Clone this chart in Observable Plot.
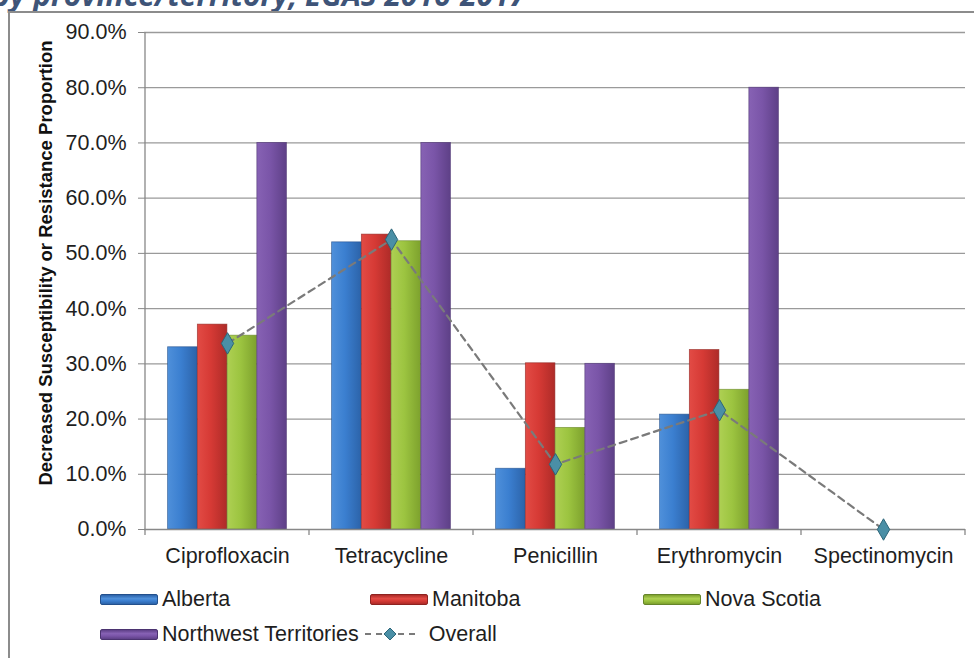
<!DOCTYPE html>
<html>
<head>
<meta charset="utf-8">
<script src="https://cdn.jsdelivr.net/npm/d3@7"></script>
<script src="https://cdn.jsdelivr.net/npm/@observablehq/plot@0.6"></script>
<style>
  html, body { margin: 0; padding: 0; background: #fff; }
  #page { position: relative; width: 974px; height: 658px; overflow: hidden; font-family: "Liberation Sans", Arial, sans-serif; }
  #title { position: absolute; left: -8px; top: -20px; font-family: "Open Sans", sans-serif; font-weight: 700; font-style: italic; font-size: 30px; line-height: 30px; color: #3e5478; white-space: nowrap; }
  #box { position: absolute; left: 8px; top: 11px; width: 1000px; height: 700px; border: 2px solid #8c8c8c; box-sizing: border-box; }
  #chart { position: absolute; left: 0; top: 0; }
  .lg { position: absolute; display: flex; align-items: center; font-size: 21.5px; color: #1e1e1e; white-space: nowrap; }
  .sw { width: 56px; height: 9px; border-radius: 2px; margin-right: 4px; }
</style>
</head>
<body>
<div id="page">
  <div id="title">by province/territory, EGAS 2016-2017</div>
  <div id="box"></div>
  <div id="chart"></div>
  <div id="legend"></div>
</div>
<script>
const categories = ["Ciprofloxacin", "Tetracycline", "Penicillin", "Erythromycin", "Spectinomycin"];
const provinces = ["Alberta", "Manitoba", "Nova Scotia", "Northwest Territories"];
const alberta    = [33.0, 52.0, 11.0, 20.8, 0];
const manitoba   = [37.1, 53.4, 30.1, 32.5, 0];
const novaScotia = [35.1, 52.2, 18.4, 25.3, 0];
const nwt        = [70.0, 70.0, 30.0, 80.0, 0];
const overall    = [33.7, 52.5, 11.8, 21.6, 0];
const yTicks = [0, 10, 20, 30, 40, 50, 60, 70, 80, 90];
const yLabel = "Decreased Susceptibility or Resistance Proportion";
const overallLabel = "Overall";

const series = [alberta, manitoba, novaScotia, nwt];
const colors = [
  ["#4f90da", "#3b7fd0", "#2c63a9"],
  ["#e24b45", "#d63a35", "#ae2b28"],
  ["#aed053", "#9cc440", "#7da12d"],
  ["#8762b4", "#7a55a8", "#5e4087"]
];
const edge = ["#23508c", "#8e2320", "#66852a", "#4b3370"];

const W = 974, H = 575, mL = 144, mR = 9, mT = 32, mB = 46;
const step = (W - mL - mR) / categories.length;
const groupW = 119;
const barW = groupW / provinces.length;
const pad = (step - groupW) / 2;

const barMarks = series.map((vals, i) => Plot.barY(
  categories.map((c, j) => ({cat: c, v: vals[j]})).filter(d => d.v > 0),
  {x: "cat", y: "v", fill: `url(#grad${i})`, stroke: edge[i], strokeWidth: 0.8, strokeOpacity: 0.7,
   insetLeft: pad + i * barW, insetRight: step - pad - (i + 1) * barW}
));
const overallData = categories.map((c, j) => ({cat: c, v: overall[j]}));

const chart = Plot.plot({
  width: W, height: H,
  marginLeft: mL, marginRight: mR, marginTop: mT, marginBottom: mB,
  style: {fontFamily: '"Liberation Sans", Arial, sans-serif', fontSize: "21.5px", background: "transparent"},
  x: {type: "band", domain: categories, padding: 0},
  y: {domain: [0, 90]},
  marks: [
    Plot.gridY(yTicks.filter(d => d > 0), {stroke: "#9a9a9a", strokeOpacity: 1, strokeWidth: 1.3}),
    Plot.axisY(yTicks, {tickFormat: d => d.toFixed(1) + "%", tickSize: 6, tickPadding: 12, fontSize: 21.5, stroke: "#888", fill: "#1e1e1e", label: null}),
    Plot.axisX({tickSize: 0, tickPadding: 18, fontSize: 21.5, fill: "#1e1e1e", label: null}),
    ...barMarks,
    Plot.ruleY([0], {stroke: "#888", strokeWidth: 1.3}),
    Plot.line(overallData, {x: "cat", y: "v", stroke: "#7a7a7a", strokeWidth: 2.2, strokeDasharray: "7,5"}),
    Plot.dot(overallData, {x: "cat", y: "v", symbol: "diamond", r: 6.5, fill: "#4a8fa6", stroke: "#2d6679", strokeWidth: 1}),
    Plot.text([yLabel], {frameAnchor: "left", textAnchor: "middle", text: d => d, rotate: -90, dx: -98, dy: -18, fontWeight: "bold", fontSize: 18.5, fill: "#111"})
  ]
});

// gradients for bars
const svg = d3.select(chart);
const defs = svg.insert("defs", ":first-child");
colors.forEach((c, i) => {
  const g = defs.append("linearGradient").attr("id", `grad${i}`).attr("x1", 0).attr("x2", 1).attr("y1", 0).attr("y2", 0);
  g.append("stop").attr("offset", "0%").attr("stop-color", c[0]);
  g.append("stop").attr("offset", "45%").attr("stop-color", c[1]);
  g.append("stop").attr("offset", "100%").attr("stop-color", c[2]);
});

// y axis line and category boundary ticks, from the plot's own scales
const xs = chart.scale("x"), ys = chart.scale("y");
const x0 = xs.apply(categories[0]);
const bw = xs.bandwidth;
const y0 = ys.apply(0), yTop = ys.apply(90);
const axG = svg.append("g").attr("stroke", "#888").attr("stroke-width", 1.3);
axG.append("line").attr("x1", x0).attr("x2", x0).attr("y1", yTop).attr("y2", y0 + 6);
for (let k = 1; k <= categories.length; k++) {
  const xx = x0 + k * bw;
  axG.append("line").attr("x1", xx).attr("x2", xx).attr("y1", y0).attr("y2", y0 + 6);
}

document.getElementById("chart").appendChild(chart);

// legend
const legend = document.getElementById("legend");
const legPos = [[100, 599], [370, 599], [643, 599], [100, 634]];
provinces.forEach((p, i) => {
  const c = colors[i];
  const item = document.createElement("div");
  item.className = "lg";
  item.style.left = legPos[i][0] + "px";
  item.style.top = (legPos[i][1] - 12) + "px";
  item.style.height = "24px";
  const sw = document.createElement("div");
  sw.className = "sw";
  sw.style.background = `linear-gradient(to bottom, ${c[2]} 0%, ${c[0]} 40%, ${c[1]} 65%, ${c[2]} 100%)`;
  sw.style.border = `1px solid ${edge[i]}`;
  item.appendChild(sw);
  const t = document.createElement("span");
  t.textContent = p;
  item.appendChild(t);
  if (i === 3) {
    const m = document.createElementNS("http://www.w3.org/2000/svg", "svg");
    m.setAttribute("width", 50); m.setAttribute("height", 20);
    m.style.margin = "0 14px 0 6px";
    m.innerHTML = '<line x1="0" x2="50" y1="10" y2="10" stroke="#7a7a7a" stroke-width="2" stroke-dasharray="6,5"/>' +
      '<path d="M25,4 L31,10 L25,16 L19,10 Z" fill="#4a8fa6" stroke="#2d6679" stroke-width="1"/>';
    item.appendChild(m);
    const t2 = document.createElement("span");
    t2.textContent = overallLabel;
    item.appendChild(t2);
  }
  legend.appendChild(item);
});
</script>
</body>
</html>
